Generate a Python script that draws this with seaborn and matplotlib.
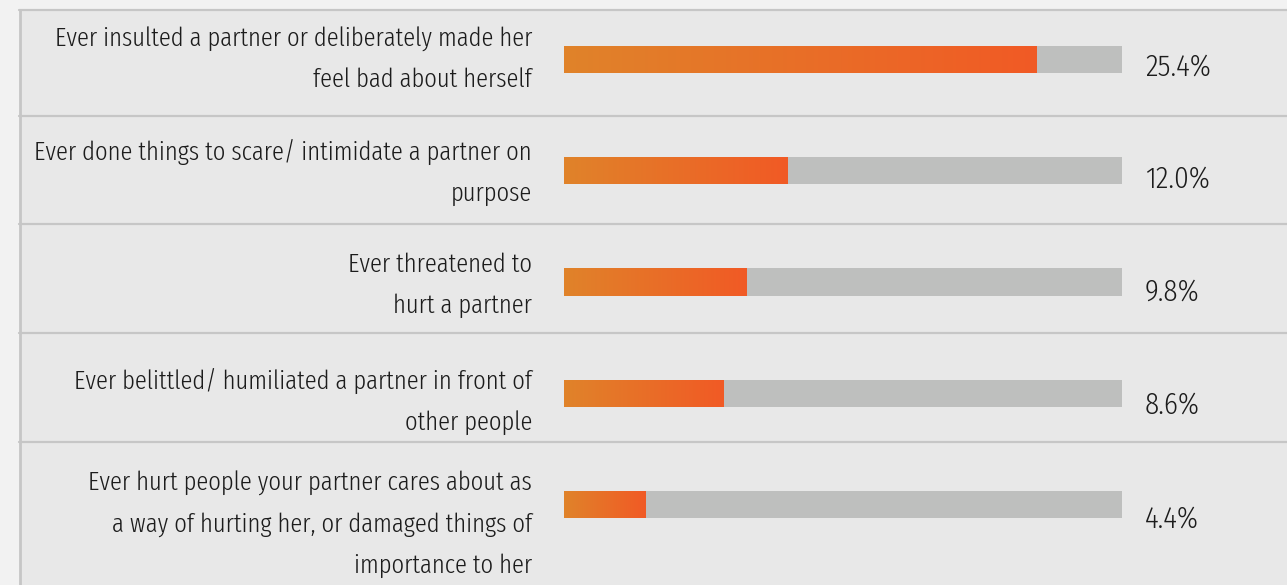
import numpy as np
import pandas as pd
import seaborn as sns
import matplotlib.pyplot as plt
from matplotlib.colors import LinearSegmentedColormap
from matplotlib.patches import Rectangle
from matplotlib.lines import Line2D
from matplotlib.transforms import blended_transform_factory, offset_copy

# Survey items (with line breaks as printed) and the share who answered yes
labels = [
    "Ever insulted a partner or deliberately made her\nfeel bad about herself",
    "Ever done things to scare/ intimidate a partner on\npurpose",
    "Ever threatened to\nhurt a partner",
    "Ever belittled/ humiliated a partner in front of\nother people",
    "Ever hurt people your partner cares about as\na way of hurting her, or damaged things of\nimportance to her",
]
values = [25.4, 12.0, 9.8, 8.6, 4.4]
value_labels = ["25.4%", "12.0%", "9.8%", "8.6%", "4.4%"]
scale_max = 30.0  # full length of the grey track

# Layout: downward nudges (px) of row captions and of the percentage labels
label_nudge = [0, 2, 3, 8.5, 20]
value_nudge = [8, 9, 10.5, 12.5, 15]

sns.set_theme(style="white")
plt.rcParams["font.family"] = ["Fira Sans Extra Condensed", "DejaVu Sans"]
plt.rcParams["font.weight"] = 300

W, H = 1287, 585
fig = plt.figure(figsize=(W / 100, H / 100), dpi=100, facecolor="#f2f2f2")

# Panel background and its border / row rules
fig.add_artist(Rectangle((20 / W, 0), 1 - 20 / W, 1 - 10 / H, transform=fig.transFigure,
                         facecolor="#e8e8e8", edgecolor="none", zorder=0))
rule = "#c6c6c6"
fig.add_artist(Line2D([20 / W, 20 / W], [0, 1 - 10 / H], transform=fig.transFigure,
                      color=rule, lw=2, zorder=1))
for ypix in [10, 116, 224, 333, 442]:
    fig.add_artist(Line2D([19 / W, 1], [1 - ypix / H] * 2, transform=fig.transFigure,
                          color=rule, lw=1.6, zorder=1))

# Bar area
ax = fig.add_axes([564 / W, 0, 558 / W, 1])
ax.set_facecolor("none")

df = pd.DataFrame({"item": labels, "value": values, "track": scale_max})
bar_w = 0.243
sns.barplot(data=df, x="track", y="item", orient="h", color="#bebfbe", saturation=1,
            width=bar_w, ax=ax, linewidth=0)
n_track = len(ax.patches)
sns.barplot(data=df, x="value", y="item", orient="h", color="#e4762a", saturation=1,
            width=bar_w, ax=ax, linewidth=0)

# Orange-to-red gradient fill for each value bar
cmap = LinearSegmentedColormap.from_list("heat", ["#e0832a", "#f15a25"])
grad = np.linspace(0, 1, 256).reshape(1, -1)
for p in ax.patches[n_track:]:
    x0, y0, w, h = p.get_x(), p.get_y(), p.get_width(), p.get_height()
    im = ax.imshow(grad, extent=[x0, x0 + w, y0 + h, y0], cmap=cmap, aspect="auto",
                   interpolation="bicubic", zorder=3)
    im.set_clip_path(p)
    p.set_facecolor("none")

ax.set_xlim(0, scale_max)
ax.set_ylim(4.724, -0.535)
ax.set_axis_off()

trans = blended_transform_factory(ax.transAxes, ax.transData)
for i, lab in enumerate(labels):
    t = offset_copy(trans, fig=fig, x=0, y=-label_nudge[i], units="dots")
    ax.text(-32 / 558, i, lab, transform=t, ha="right", va="center",
            fontsize=19.3, color="#1c1c1c", linespacing=1.8)

for i, vl in enumerate(value_labels):
    t = offset_copy(trans, fig=fig, x=0, y=-value_nudge[i], units="dots")
    ax.text(1 + 23 / 558, i, vl, transform=t, ha="left", va="center",
            fontsize=21, color="#1c1c1c", family=["Fira Sans Condensed", "DejaVu Sans"])

fig.savefig("out.png", dpi=100, facecolor=fig.get_facecolor())
